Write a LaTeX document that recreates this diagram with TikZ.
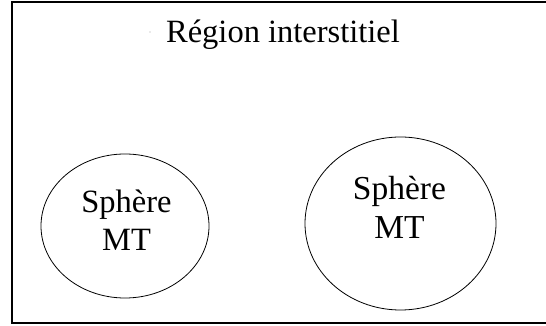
\documentclass[tikz,border=0pt]{standalone}
\usepackage{fontspec}
\setmainfont{Liberation Serif}
\usetikzlibrary{shapes.geometric}
\begin{document}
\begin{tikzpicture}[x=1pt,y=1pt,
  sphere/.style={draw, ellipse, line width=0.8pt, inner sep=0pt},
  label/.style={font=\fontsize{32.5}{38}\selectfont, align=center, anchor=base},
  biglabel/.style={label, font=\fontsize{33.5}{39}\selectfont},
  region/.style={draw, line width=1.3pt}]
  \useasboundingbox (0,0) rectangle (546,326);
  \begin{scope}
    \clip (0,0) rectangle (546,326);
    % outer box of the interstitial region (right side runs past the frame)
    \draw[region] (12,3) rectangle (552,324);
  \end{scope}
  \node[label] (title) at (283,283.5) {Région interstitiel};
  \fill[gray!70] (150,294) circle (0.6);
  % muffin-tin spheres
  \node[sphere, minimum width=168, minimum height=144] (s1) at (125,100) {};
  \node[sphere, minimum width=191, minimum height=173] (s2) at (400.5,102.5) {};
  \node[label] (t1) at (126.5,113) {Sphère};
  \node[label] (m1) at ([yshift=-37.5]t1.base) {MT};
  \node[biglabel] (t2) at (399.5,126) {Sphère};
  \node[biglabel] (m2) at ([yshift=-39]t2.base) {MT};
\end{tikzpicture}
\end{document}
